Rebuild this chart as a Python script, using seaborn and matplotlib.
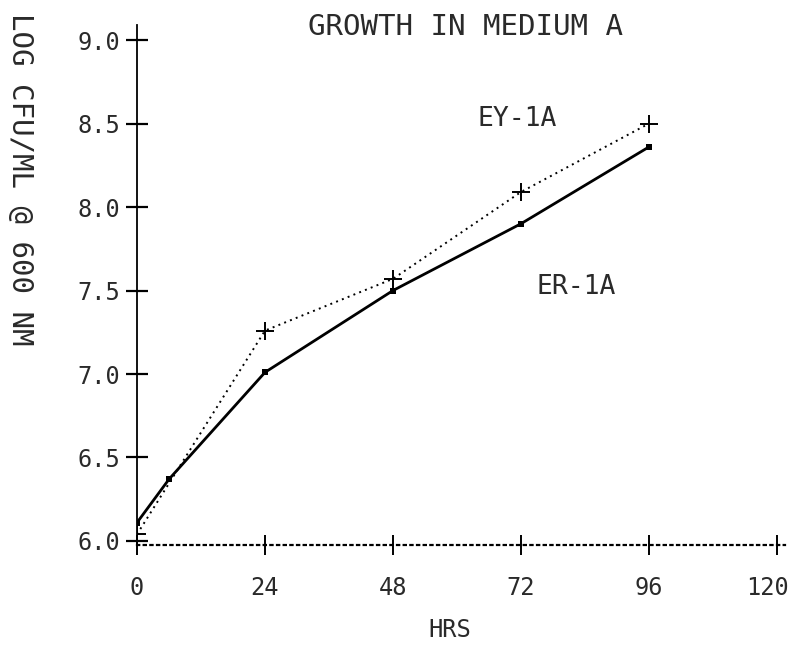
import matplotlib
matplotlib.use("Agg")
import matplotlib.pyplot as plt
import matplotlib.transforms as mtransforms
import seaborn as sns
import pandas as pd

# ---- data ----
hours_ey = [0, 24, 48, 72, 96]
log_ey = [6.04, 7.26, 7.57, 8.09, 8.50]
hours_er = [0, 6, 24, 48, 72, 96]
log_er = [6.11, 6.37, 7.01, 7.50, 7.90, 8.36]

x_ticks = [0, 24, 48, 72, 96, 120]
x_tick_labels = ["0", "24", "48", "72", "96", "120"]
y_ticks = [6.0, 6.5, 7.0, 7.5, 8.0, 8.5, 9.0]
y_tick_labels = ["6.0", "6.5", "7.0", "7.5", "8.0", "8.5", "9.0"]

title = "GROWTH IN MEDIUM A"
x_label = "HRS"
y_label = "LOG CFU/ML @ 600 NM"
series_names = ["EY-1A", "ER-1A"]

df_ey = pd.DataFrame({"hrs": hours_ey, "log": log_ey})
df_er = pd.DataFrame({"hrs": hours_er, "log": log_er})

sns.set_style("white")
plt.rcParams["font.family"] = ["DejaVu Sans Mono", "DejaVu Sans"]
ink = "#2a2a2a"

fig = plt.figure(figsize=(7.89, 6.6), dpi=100)
ax = fig.add_axes([137 / 789, 1 - 545 / 660, (785 - 137) / 789, (545 - 25) / 660])

sns.lineplot(data=df_ey, x="hrs", y="log", ax=ax, color="black",
             linestyle=(0, (1, 2.2)), linewidth=1.4, marker="+",
             markersize=13, markeredgewidth=1.4, markeredgecolor="black",
             estimator=None, sort=False)
sns.lineplot(data=df_er, x="hrs", y="log", ax=ax, color="black",
             linestyle="-", linewidth=2.0, marker="s", markersize=4.5,
             markeredgewidth=0, estimator=None, sort=False)

ax.set_xlim(0, 121.5)
ax.set_ylim(5.976, 9.09)

ax.set_xticks(x_ticks)
ax.set_xticklabels(x_tick_labels)
ax.set_yticks(y_ticks)
ax.set_yticklabels(y_tick_labels)

ax.tick_params(axis="y", left=True, direction="inout", length=16.5, width=1.6,
               pad=4, labelsize=17, labelcolor=ink, color="black")
ax.tick_params(axis="x", bottom=True, direction="inout", length=14.5, width=1.4,
               pad=15, labelsize=17, labelcolor=ink, color="black")

for s in ["top", "right"]:
    ax.spines[s].set_visible(False)
ax.spines["left"].set_color("black")
ax.spines["left"].set_linewidth(1.3)
ax.spines["bottom"].set_color("black")
ax.spines["bottom"].set_linewidth(1.6)
ax.spines["bottom"].set_linestyle((0, (1, 2)))

ax.set_xlabel(x_label, fontsize=17, color=ink, va="center")
ax.xaxis.set_label_coords((450 - 137) / 648, -(630 - 545) / 520)
ax.set_ylabel("")

fig.text(466 / 789, 1 - 27 / 660, title, ha="center", va="center",
         fontsize=21, color=ink)
fig.text(20 / 789, 1 - 13 / 660, y_label, rotation=-90, ha="center",
         va="top", fontsize=21, color=ink)

ax.text(71.3, 8.53, series_names[0], ha="center", va="center",
        fontsize=19, color=ink)
ax.text(82.3, 7.52, series_names[1], ha="center", va="center",
        fontsize=19, color=ink)

# nudge the last x tick label left so it stays inside the figure
fig.canvas.draw()
last = ax.get_xticklabels()[-1]
last.set_transform(last.get_transform() +
                   mtransforms.ScaledTranslation(-10 / 100, 0, fig.dpi_scale_trans))

fig.savefig("out.png", dpi=100, facecolor="white")
